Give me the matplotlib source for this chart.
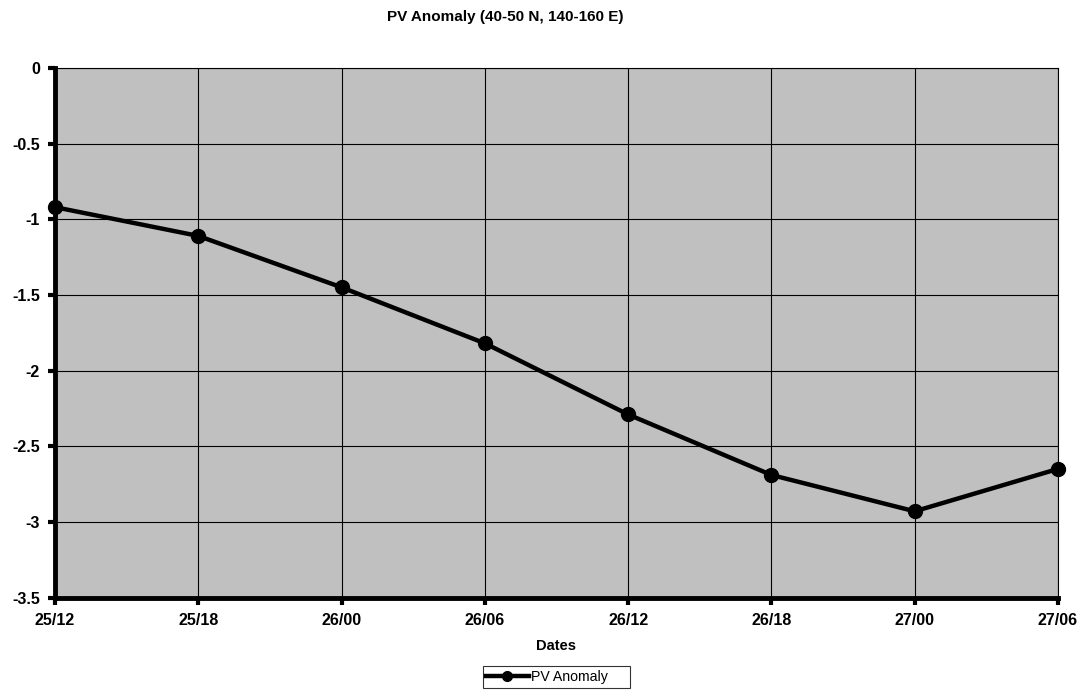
import matplotlib
matplotlib.use("Agg")
import matplotlib.pyplot as plt
import numpy as np

plt.rcParams['font.family'] = ['Liberation Sans', 'DejaVu Sans']

dates = ["25/12", "25/18", "26/00", "26/06", "26/12", "26/18", "27/00", "27/06"]
pv_anomaly = [-0.92, -1.11, -1.45, -1.82, -2.29, -2.69, -2.93, -2.65]
y_ticks = [0, -0.5, -1, -1.5, -2, -2.5, -3, -3.5]

fig = plt.figure(figsize=(10.79, 6.90), dpi=100)
ax = fig.add_axes([0.051, 0.134, 0.9295, 0.7675])
ax.set_facecolor("#C0C0C0")

x = np.arange(len(dates))
ax.plot(x, pv_anomaly, color="black", linewidth=3.2, marker="o",
        markersize=10, label="PV Anomaly     ", zorder=3, clip_on=False)

ax.set_xlim(0, len(dates) - 1)
ax.set_ylim(-3.5, 0)
ax.set_xticks(x)
ax.set_xticklabels(dates, fontsize=11.5, fontweight="bold")
ax.set_yticks(y_ticks)
ax.set_yticklabels([f"{v:g}" for v in y_ticks], fontsize=11.5, fontweight="bold")
ax.grid(True, color="black", linewidth=0.8)
ax.set_axisbelow(True)

for side in ["top", "right"]:
    ax.spines[side].set_linewidth(0.8)
for side in ["left", "bottom"]:
    ax.spines[side].set_linewidth(3.5)
ax.tick_params(direction="out", length=5, width=3, pad=6)

ax.set_xlabel("Dates", fontsize=10.5, fontweight="bold", labelpad=8)
fig.suptitle("PV Anomaly (40-50 N, 140-160 E)", fontsize=11,
             fontweight="bold", x=505 / 1079, y=1 - 17 / 690, va="center")

leg = ax.legend(loc="center", bbox_to_anchor=(0.5, -0.150), fontsize=10.2,
                frameon=True, fancybox=False, edgecolor="black",
                handlelength=3.0, borderpad=0.25, handletextpad=0.15,
                markerscale=0.7)
leg.get_frame().set_linewidth(0.8)

fig.savefig("out.png", dpi=100)
